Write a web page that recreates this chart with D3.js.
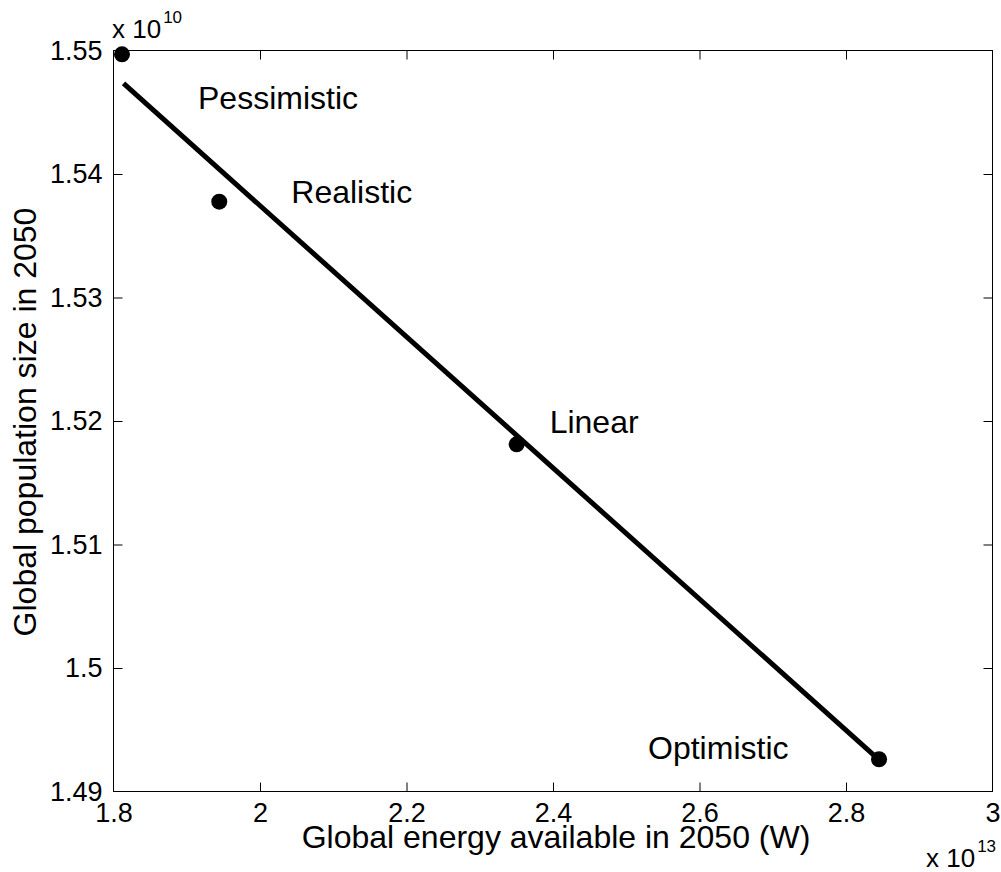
<!DOCTYPE html>
<html>
<head>
<meta charset="utf-8">
<script src="https://cdn.jsdelivr.net/npm/d3@7"></script>
<style>
  html, body { margin: 0; padding: 0; background: #fff; }
  svg { display: block; font-family: "Liberation Sans", Arial, Helvetica, sans-serif; }
</style>
</head>
<body>
<svg id="chart" width="1001" height="872"></svg>
<script>
// ---- data (x in units of 10^13 W, y in units of 10^10 people) ----
const scenarios = ["Pessimistic", "Realistic", "Linear", "Optimistic"];
const energy = [1.8116, 1.9444, 2.3504, 2.8451];
const population = [1.54969, 1.53776, 1.51811, 1.49261];
const fitEnergy = [1.8137, 2.8410];
const fitPopulation = [1.54733, 1.49279];
const xTicks = [1.8, 2, 2.2, 2.4, 2.6, 2.8, 3];
const yTicks = [1.49, 1.5, 1.51, 1.52, 1.53, 1.54, 1.55];
const xLabel = "Global energy available in 2050 (W)";
const yLabel = "Global population size in 2050";
const xExp = "13", yExp = "10";

// label offsets (pixels) relative to points
const labelOffsets = [[76, 55], [72, 1], [33, -11], [-231, 0]];

const svg = d3.select("#chart");
const L = 113.5, R = 992.5, T = 50.5, B = 791.5;
const x = d3.scaleLinear().domain([1.8, 3]).range([L, R]);
const y = d3.scaleLinear().domain([1.49, 1.55]).range([B, T]);

const fmt = d => String(+d.toFixed(2));

// box
svg.append("rect").attr("x", L).attr("y", T).attr("width", R - L).attr("height", B - T)
  .attr("fill", "none").attr("stroke", "#000").attr("stroke-width", 1);

const tickLen = 9;
const axB = svg.append("g").attr("transform", `translate(0,${B})`)
  .call(d3.axisBottom(x).tickValues(xTicks).tickFormat(fmt).tickSizeInner(-tickLen).tickSizeOuter(0).tickPadding(11));
const axT = svg.append("g").attr("transform", `translate(0,${T})`)
  .call(d3.axisTop(x).tickValues(xTicks).tickFormat("").tickSizeInner(-tickLen).tickSizeOuter(0));
const axL = svg.append("g").attr("transform", `translate(${L},0)`)
  .call(d3.axisLeft(y).tickValues(yTicks).tickFormat(fmt).tickSizeInner(-tickLen).tickSizeOuter(0).tickPadding(11));
const axR = svg.append("g").attr("transform", `translate(${R},0)`)
  .call(d3.axisRight(y).tickValues(yTicks).tickFormat("").tickSizeInner(-tickLen).tickSizeOuter(0));

[axB, axT, axL, axR].forEach(g => {
  g.select(".domain").remove();
  g.selectAll(".tick line").attr("stroke", "#000").attr("stroke-width", 1);
  g.selectAll(".tick text").attr("fill", "#000").attr("font-size", 27)
    .attr("font-family", "Liberation Sans, Arial, sans-serif");
});
// hide end ticks that coincide with box edges
axB.selectAll(".tick").filter(d => d === 1.8 || d === 3).select("line").remove();
axT.selectAll(".tick").filter(d => d === 1.8 || d === 3).select("line").remove();
axL.selectAll(".tick").filter(d => d === 1.49 || d === 1.55).select("line").remove();
axR.selectAll(".tick").filter(d => d === 1.49 || d === 1.55).select("line").remove();

// fitted line
const fit = fitEnergy.map((e, i) => ({ e, p: fitPopulation[i] }));
svg.append("path").datum(fit)
  .attr("d", d3.line().x(d => x(d.e)).y(d => y(d.p)))
  .attr("fill", "none").attr("stroke", "#000").attr("stroke-width", 5);

// points
const pts = scenarios.map((s, i) => ({ s, e: energy[i], p: population[i], off: labelOffsets[i] }));
svg.selectAll("circle.pt").data(pts).join("circle").attr("class", "pt")
  .attr("cx", d => x(d.e)).attr("cy", d => y(d.p)).attr("r", 8).attr("fill", "#000");

svg.selectAll("text.lab").data(pts).join("text").attr("class", "lab")
  .attr("x", d => x(d.e) + d.off[0]).attr("y", d => y(d.p) + d.off[1])
  .attr("font-size", 32).attr("fill", "#000").text(d => d.s);

// axis labels
svg.append("text").attr("x", (L + R) / 2 + 3).attr("y", 848).attr("text-anchor", "middle")
  .attr("font-size", 32).text(xLabel);
svg.append("text").attr("transform", `translate(36,${(T + B) / 2 + 1}) rotate(-90)`)
  .attr("text-anchor", "middle").attr("font-size", 32).text(yLabel);

// exponent labels
const e1 = svg.append("text").attr("x", 112).attr("y", 38).attr("font-size", 26);
e1.append("tspan").text("x 10");
e1.append("tspan").attr("font-size", 17).attr("dy", -15).attr("dx", 2).text(yExp);

const e2 = svg.append("text").attr("x", 926).attr("y", 867).attr("font-size", 26);
e2.append("tspan").text("x 10");
e2.append("tspan").attr("font-size", 17).attr("dy", -15).attr("dx", 2).text(xExp);
</script>
</body>
</html>
